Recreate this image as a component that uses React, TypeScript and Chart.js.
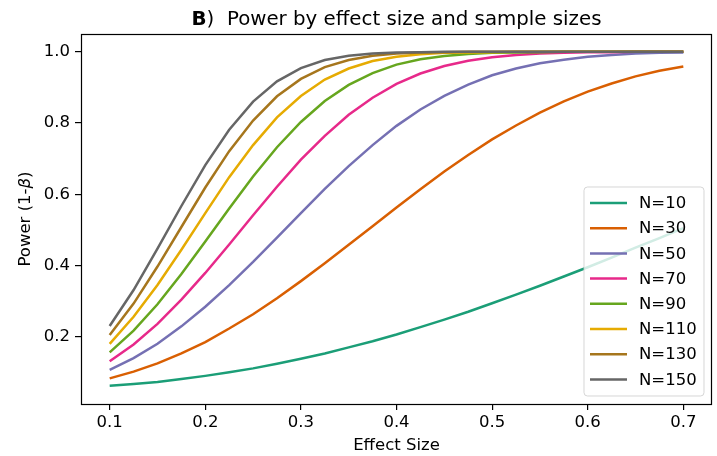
import React, { useEffect, useRef } from "react";
import { Chart, registerables } from "chart.js";

Chart.register(...registerables);

const EFFECT_SIZES = [0.1, 0.125, 0.15, 0.175, 0.2, 0.225, 0.25, 0.275, 0.3, 0.325, 0.35, 0.375, 0.4, 0.425, 0.45, 0.475, 0.5, 0.525, 0.55, 0.575, 0.6, 0.625, 0.65, 0.675, 0.7];
const SAMPLE_LABELS = ["N=10", "N=30", "N=50", "N=70", "N=90", "N=110", "N=130", "N=150"];

const POWER_N10 = [0.062, 0.067, 0.073, 0.081, 0.090, 0.100, 0.111, 0.124, 0.138, 0.153, 0.170, 0.187, 0.206, 0.227, 0.248, 0.270, 0.294, 0.318, 0.343, 0.369, 0.395, 0.422, 0.450, 0.477, 0.505];
const POWER_N30 = [0.083, 0.102, 0.125, 0.153, 0.185, 0.223, 0.263, 0.308, 0.356, 0.406, 0.458, 0.510, 0.563, 0.614, 0.664, 0.710, 0.754, 0.793, 0.829, 0.861, 0.888, 0.911, 0.931, 0.947, 0.959];
const POWER_N50 = [0.107, 0.140, 0.180, 0.229, 0.284, 0.345, 0.410, 0.478, 0.547, 0.615, 0.679, 0.738, 0.792, 0.838, 0.876, 0.908, 0.934, 0.953, 0.968, 0.978, 0.986, 0.991, 0.995, 0.997, 0.998];
const POWER_N70 = [0.131, 0.178, 0.236, 0.304, 0.379, 0.459, 0.541, 0.621, 0.697, 0.764, 0.823, 0.871, 0.910, 0.939, 0.960, 0.975, 0.985, 0.991, 0.995, 0.997, 0.999, 0.999, 1.000, 1.000, 1.000];
const POWER_N90 = [0.156, 0.217, 0.291, 0.376, 0.467, 0.560, 0.650, 0.732, 0.803, 0.862, 0.907, 0.940, 0.964, 0.979, 0.988, 0.994, 0.997, 0.998, 0.999, 1.000, 1.000, 1.000, 1.000, 1.000, 1.000];
const POWER_N110 = [0.180, 0.256, 0.345, 0.444, 0.547, 0.648, 0.738, 0.816, 0.876, 0.922, 0.953, 0.974, 0.986, 0.993, 0.997, 0.998, 0.999, 1.000, 1.000, 1.000, 1.000, 1.000, 1.000, 1.000, 1.000];
const POWER_N130 = [0.205, 0.293, 0.397, 0.508, 0.619, 0.721, 0.807, 0.875, 0.924, 0.957, 0.977, 0.989, 0.995, 0.998, 0.999, 1.000, 1.000, 1.000, 1.000, 1.000, 1.000, 1.000, 1.000, 1.000, 1.000];
const POWER_N150 = [0.230, 0.331, 0.447, 0.567, 0.682, 0.781, 0.860, 0.917, 0.954, 0.977, 0.989, 0.995, 0.998, 0.999, 1.000, 1.000, 1.000, 1.000, 1.000, 1.000, 1.000, 1.000, 1.000, 1.000, 1.000];

const SERIES = [POWER_N10, POWER_N30, POWER_N50, POWER_N70, POWER_N90, POWER_N110, POWER_N130, POWER_N150];
const COLORS = ["#1b9e77", "#d95f02", "#7570b3", "#e7298a", "#66a61e", "#e6ab02", "#a6761d", "#666666"];

const X_TICKS = [0.1, 0.2, 0.3, 0.4, 0.5, 0.6, 0.7];
const Y_TICKS = [0.2, 0.4, 0.6, 0.8, 1.0];

const FONT = "'DejaVu Sans', sans-serif";
const FS = 16.5;

const decorPlugin = {
  id: "decor",
  afterDraw(chart: any) {
    const ctx = chart.ctx as CanvasRenderingContext2D;
    const a = chart.chartArea;
    ctx.save();
    // frame
    ctx.strokeStyle = "#000";
    ctx.lineWidth = 1.2;
    ctx.strokeRect(Math.round(a.left) + 0.5, Math.round(a.top) + 0.5, Math.round(a.right - a.left) - 1, Math.round(a.bottom - a.top));

    // title
    const cx = (a.left + a.right) / 2;
    ctx.fillStyle = "#000";
    ctx.textBaseline = "alphabetic";
    const boldFont = `bold 19.8px ${FONT}`;
    const normFont = `19.8px ${FONT}`;
    ctx.font = boldFont;
    const wB = ctx.measureText("B").width;
    ctx.font = normFont;
    const rest = ")  Power by effect size and sample sizes";
    const wR = ctx.measureText(rest).width;
    const tx = cx - (wB + wR) / 2;
    ctx.textAlign = "left";
    ctx.font = boldFont;
    ctx.fillText("B", tx, 25);
    ctx.font = normFont;
    ctx.fillText(rest, tx + wB, 25);

    // x label
    ctx.font = `${FS}px ${FONT}`;
    ctx.textAlign = "center";
    ctx.fillText("Effect Size", cx, 450);

    // y label
    const cy = (a.top + a.bottom) / 2;
    ctx.save();
    ctx.translate(30, cy);
    ctx.rotate(-Math.PI / 2);
    ctx.textAlign = "left";
    const p1 = "Power (1-";
    const p2 = "\u03B2";
    const p3 = ")";
    ctx.font = `${FS}px ${FONT}`;
    const w1 = ctx.measureText(p1).width;
    const w3 = ctx.measureText(p3).width;
    ctx.font = `italic ${FS}px ${FONT}`;
    const w2 = ctx.measureText(p2).width;
    const sx = -(w1 + w2 + w3) / 2;
    ctx.font = `${FS}px ${FONT}`;
    ctx.fillText(p1, sx, 0);
    ctx.font = `italic ${FS}px ${FONT}`;
    ctx.fillText(p2, sx + w1, 0);
    ctx.font = `${FS}px ${FONT}`;
    ctx.fillText(p3, sx + w1 + w2, 0);
    ctx.restore();

    // legend
    const boxW = 120;
    const boxH = 209;
    const bx = a.right - 8 - boxW;
    const by = a.bottom - 8 - boxH;
    const r = 3.5;
    ctx.beginPath();
    ctx.moveTo(bx + r, by);
    ctx.lineTo(bx + boxW - r, by);
    ctx.quadraticCurveTo(bx + boxW, by, bx + boxW, by + r);
    ctx.lineTo(bx + boxW, by + boxH - r);
    ctx.quadraticCurveTo(bx + boxW, by + boxH, bx + boxW - r, by + boxH);
    ctx.lineTo(bx + r, by + boxH);
    ctx.quadraticCurveTo(bx, by + boxH, bx, by + boxH - r);
    ctx.lineTo(bx, by + r);
    ctx.quadraticCurveTo(bx, by, bx + r, by);
    ctx.closePath();
    ctx.fillStyle = "rgba(255,255,255,0.8)";
    ctx.fill();
    ctx.strokeStyle = "rgba(204,204,204,0.8)";
    ctx.lineWidth = 1;
    ctx.stroke();
    ctx.font = `${FS}px ${FONT}`;
    ctx.textAlign = "left";
    ctx.textBaseline = "middle";
    SAMPLE_LABELS.forEach((lab, i) => {
      const y = by + 16 + i * 25.2;
      ctx.strokeStyle = COLORS[i];
      ctx.lineWidth = 2.5;
      ctx.beginPath();
      ctx.moveTo(bx + 6, y);
      ctx.lineTo(bx + 43, y);
      ctx.stroke();
      ctx.fillStyle = "#000";
      ctx.fillText(lab, bx + 55, y + 1);
    });
    ctx.restore();
  },
};

export default function App() {
  const ref = useRef<HTMLCanvasElement | null>(null);
  useEffect(() => {
    if (!ref.current) return;
    const datasets = SERIES.map((vals, i) => ({
      label: SAMPLE_LABELS[i],
      data: vals.map((v, j) => ({ x: EFFECT_SIZES[j], y: v })),
      borderColor: COLORS[i],
      backgroundColor: COLORS[i],
      borderWidth: 2.5,
      pointRadius: 0,
      tension: 0,
      fill: false,
      order: SERIES.length - i,
    }));
    const tickFont = { family: FONT, size: FS };
    const chart = new Chart(ref.current, {
      type: "line",
      data: { datasets },
      options: {
        animation: false,
        responsive: false,
        maintainAspectRatio: false,
        devicePixelRatio: 1,
        layout: { padding: { top: 34, right: 5, left: 0, bottom: 0 } },
        plugins: { legend: { display: false }, title: { display: false }, tooltip: { enabled: false } },
        scales: {
          x: {
            type: "linear",
            min: 0.07,
            max: 0.73,
            grid: { display: true, drawOnChartArea: false, drawTicks: true, tickLength: 6, color: "#000", lineWidth: 1.2 },
            border: { display: false },
            ticks: { font: tickFont, color: "#000", padding: 3, maxRotation: 0, autoSkip: false, callback: (v: any) => Number(v).toFixed(1) },
            afterBuildTicks: (s: any) => { s.ticks = X_TICKS.map((v) => ({ value: v })); },
            afterFit: (s: any) => { s.height = 52; },
          },
          y: {
            type: "linear",
            min: 0.011,
            max: 1.05,
            grid: { display: true, drawOnChartArea: false, drawTicks: true, tickLength: 6, color: "#000", lineWidth: 1.2 },
            border: { display: false },
            ticks: { font: tickFont, color: "#000", padding: 5, autoSkip: false, callback: (v: any) => Number(v).toFixed(1) },
            afterBuildTicks: (s: any) => { s.ticks = Y_TICKS.map((v) => ({ value: v })); },
            afterFit: (s: any) => { s.width = 81; },
          },
        },
      },
      plugins: [decorPlugin],
    });
    return () => chart.destroy();
  }, []);
  return (
    <div style={{ position: "fixed", left: 0, top: 0, width: 717, height: 456, background: "#fff" }}>
      <canvas ref={ref} width={717} height={456} style={{ width: 717, height: 456, display: "block" }} />
    </div>
  );
}
